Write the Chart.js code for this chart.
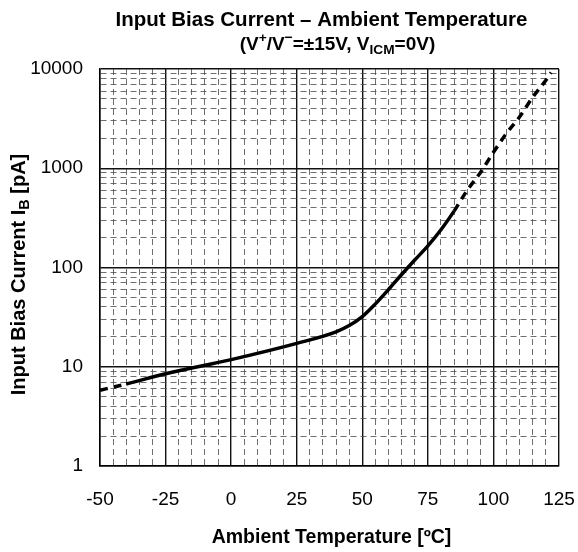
<!DOCTYPE html>
<html>
<head>
<meta charset="utf-8">
<script src="https://cdn.jsdelivr.net/npm/chart.js@4"></script>
<style>
  body{ margin:0; background:#fff; }
  canvas{ display:block; }
</style>
</head>
<body>
<canvas id="biasChart" width="578" height="552"></canvas>
<script>

// DATA
const tempC =
[-50, -40, -25, 0, 25, 40, 45, 50, 55, 60, 65, 70, 75, 80, 85, 90, 95, 100, 105, 110, 115, 120, 122]

const biasPA =
[5.8, 6.7, 8.5, 11.8, 17.2, 22.5, 26, 32, 43, 60, 85, 119, 165, 240, 370, 600, 900, 1450, 2250, 3300, 5200, 7700, 9200]

// solid curve only inside this range, dashed outside
const solidFrom = -40
const solidTo = 85

const xTicks =
[-50, -45, -40, -35, -30, -25, -20, -15, -10, -5, 0, 5, 10, 15, 20, 25, 30, 35, 40, 45, 50,
 55, 60, 65, 70, 75, 80, 85, 90, 95, 100, 105, 110, 115, 120, 125]
const xLabels = [-50, -25, 0, 25, 50, 75, 100, 125]

const yTicks =
[1, 2, 3, 4, 5, 6, 7, 8, 9,
 10, 20, 30, 40, 50, 60, 70, 80, 90,
 100, 200, 300, 400, 500, 600, 700, 800, 900,
 1000, 2000, 3000, 4000, 5000, 6000, 7000, 8000, 9000, 10000]
const yLabels = [1, 10, 100, 1000, 10000]

const FONT = "'Liberation Sans', Arial, sans-serif"

function isMajor(list, v){
    return list.some(m => Math.abs(m - v) < 1e-6)
}

// draw a string made of parts, some of them sub / superscript
function richText(ctx, parts, size, x, y, rotate){
    ctx.save()
    ctx.translate(x, y)
    if(rotate) ctx.rotate(-Math.PI / 2)
    ctx.textBaseline = "middle"
    ctx.textAlign = "left"
    ctx.fillStyle = "#000"

    let total = 0
    parts.forEach(p => {
        const s = p.s ? size * 0.72 : size
        ctx.font = "bold " + s + "px " + FONT
        p.w = ctx.measureText(p.t).width
        total += p.w
    })

    let cx = -total / 2
    parts.forEach(p => {
        const s = p.s ? size * 0.72 : size
        ctx.font = "bold " + s + "px " + FONT
        let dy = 0
        if(p.s === "sub") dy = size * 0.3
        if(p.s === "sup") dy = -size * 0.33
        ctx.fillText(p.t, cx, dy)
        cx += p.w
    })
    ctx.restore()
}

const textPlugin = {
    id:"texts",
    afterDraw(chart){
        const ctx = chart.ctx
        const area = chart.chartArea
        const midX = (area.left + area.right) / 2
        const midY = (area.top + area.bottom) / 2

        richText(ctx, [{t:"Input Bias Current \u2013 Ambient Temperature"}], 20.5, midX - 8, 20)

        richText(ctx, [
            {t:"(V"}, {t:"+", s:"sup"}, {t:"/V"}, {t:"\u2212", s:"sup"},
            {t:"=\u00b115V, V"}, {t:"ICM", s:"sub"}, {t:"=0V)"}
        ], 19, midX + 8, 45)

        richText(ctx, [
            {t:"Input Bias Current I"}, {t:"B", s:"sub"}, {t:" [pA]"}
        ], 20, 19, midY + 7, true)

        richText(ctx, [{t:"Ambient Temperature [\u00baC]"}], 19.5, midX + 2, 538)
    }
}

const gridColor = c => (c.tick && !c.tick.major) ? "#4a4a4a" : "#111"

const chart =
new Chart(document.getElementById("biasChart"), {

    type:"line",

    data:{
        datasets:[{
            data: tempC.map((t, i) => ({x:t, y:biasPA[i]})),
            borderColor:"#000",
            borderWidth:3.5,
            pointRadius:0,
            cubicInterpolationMode:"monotone",
            segment:{
                borderDash: c =>
                    (c.p0.parsed.x < solidFrom || c.p0.parsed.x >= solidTo) ? [8, 6] : undefined
            }
        }]
    },

    plugins:[textPlugin],

    options:{
        responsive:false,
        animation:false,
        layout:{ padding:{ top:69, right:19, left:0, bottom:0 } },
        plugins:{
            legend:{ display:false },
            tooltip:{ enabled:false }
        },
        scales:{
            x:{
                type:"linear",
                min:-50,
                max:125,
                afterBuildTicks: s => {
                    s.ticks = xTicks.map(v => ({value:v, major:isMajor(xLabels, v)}))
                },
                afterFit: s => { s.height = 86 },
                ticks:{
                    autoSkip:false,
                    maxRotation:0,
                    padding:0,
                    color:"#000",
                    font:{ family:FONT, size:19 },
                    callback: v => isMajor(xLabels, v) ? String(v) : ""
                },
                grid:{
                    drawTicks:true,
                    tickLength:22,
                    tickColor:"rgba(0,0,0,0)",
                    color:gridColor,
                    lineWidth: c => (c.tick && !c.tick.major) ? 0.8 : 1.4
                },
                border:{
                    color:"#000",
                    width:1.5,
                    dash: c => (c.tick && !c.tick.major) ? [6, 4] : []
                }
            },
            y:{
                type:"logarithmic",
                min:1,
                max:10000,
                afterBuildTicks: s => {
                    s.ticks = yTicks.map(v => ({value:v, major:isMajor(yLabels, v)}))
                },
                afterFit: s => { s.width = 100 },
                ticks:{
                    autoSkip:false,
                    padding:17,
                    color:"#000",
                    font:{ family:FONT, size:19 },
                    callback: v => isMajor(yLabels, v) ? String(v) : ""
                },
                grid:{
                    drawTicks:false,
                    color:gridColor,
                    lineWidth: c => (c.tick && !c.tick.major) ? 0.8 : 1.4
                },
                border:{
                    color:"#000",
                    width:1.5,
                    dash: c => (c.tick && !c.tick.major) ? [6, 4] : []
                }
            }
        }
    }
})
</script>
</body>
</html>
